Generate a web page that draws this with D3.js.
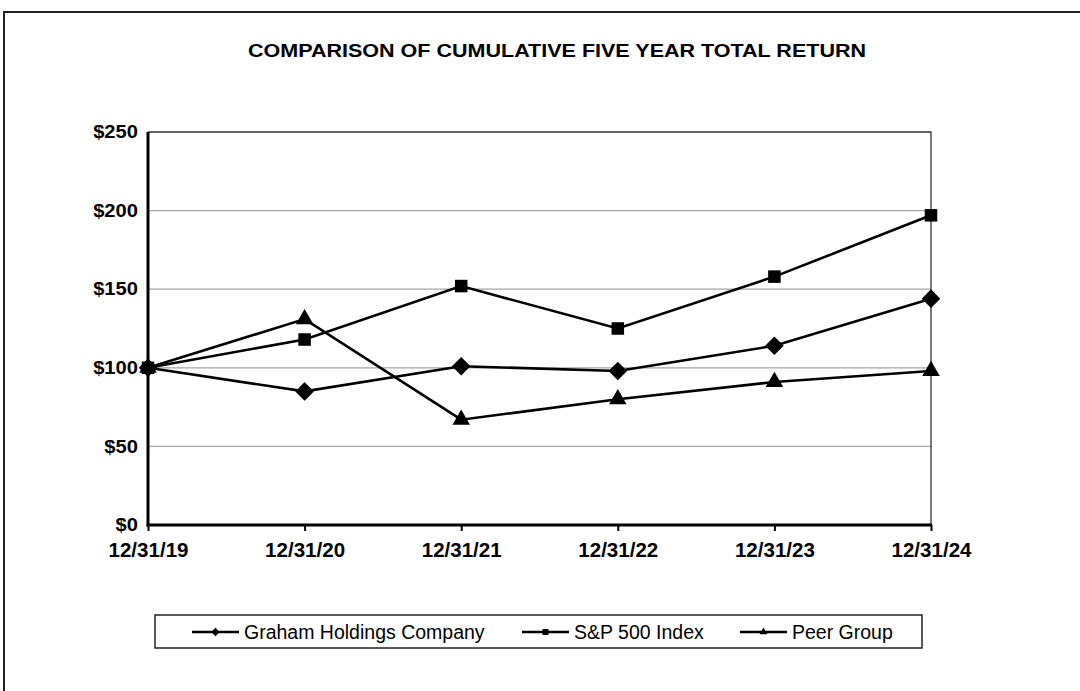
<!DOCTYPE html>
<html>
<head>
<meta charset="utf-8">
<script src="https://cdn.jsdelivr.net/npm/d3@7"></script>
<style>
  body { margin: 0; background: #fff; }
  text { font-family: "Liberation Sans", Arial, sans-serif; fill: #000; }
</style>
</head>
<body>
<script>
const width = 1080;
const height = 691;

// data
const years = ["12/31/19", "12/31/20", "12/31/21", "12/31/22", "12/31/23", "12/31/24"];
const graham = [100, 85, 101, 98, 114, 144];
const sp500 = [100, 118, 152, 125, 158, 197];
const peer = [100, 131, 67, 80, 91, 98];
const yTicks = [0, 50, 100, 150, 200, 250];
const seriesNames = ["Graham Holdings Company", "S&P 500 Index", "Peer Group"];

const series = [
  { name: seriesNames[0], values: graham, symbol: d3.symbolDiamond2 },
  { name: seriesNames[1], values: sp500, symbol: d3.symbolSquare2 },
  { name: seriesNames[2], values: peer, symbol: d3.symbolTriangle2 }
];

const plot = { left: 148, right: 931, top: 132, bottom: 525 };

let svg = d3.select("body")
  .append("svg")
  .attr("width", width)
  .attr("height", height);

// outer frame
svg.append("rect")
  .attr("x", 4)
  .attr("y", 12)
  .attr("width", 1100)
  .attr("height", 720)
  .attr("fill", "none")
  .attr("stroke", "#222")
  .attr("stroke-width", 2);

svg.append("text")
  .attr("x", 557)
  .attr("y", 57)
  .attr("text-anchor", "middle")
  .style("font-weight", "bold")
  .style("font-size", "19px")
  .attr("textLength", 618)
  .attr("lengthAdjust", "spacingAndGlyphs")
  .text("COMPARISON OF CUMULATIVE FIVE YEAR TOTAL RETURN");

let x = d3.scalePoint()
  .domain(years)
  .range([plot.left, plot.right]);

let y = d3.scaleLinear()
  .domain([0, 250])
  .range([plot.bottom, plot.top]);

// gridlines
svg.append("g")
  .selectAll("line")
  .data(yTicks.filter(d => d > 0 && d < 250))
  .enter().append("line")
  .attr("x1", plot.left)
  .attr("x2", plot.right)
  .attr("y1", d => y(d))
  .attr("y2", d => y(d))
  .attr("stroke", "#a6a6a6")
  .attr("stroke-width", 1.2);

// top and right frame
svg.append("path")
  .attr("d", `M${plot.left},${y(250)}H${plot.right}V${plot.bottom}`)
  .attr("fill", "none")
  .attr("stroke", "#333")
  .attr("stroke-width", 1.3);

// y axis labels
let yAxis = svg.append("g")
  .attr("transform", `translate(${plot.left},0)`)
  .call(d3.axisLeft(y).tickValues(yTicks).tickSize(0).tickPadding(10).tickFormat(d => "$" + d));
yAxis.select(".domain").remove();
yAxis.selectAll("text")
  .style("font-family", "'Liberation Sans', Arial, sans-serif")
  .style("font-weight", "bold")
  .style("font-size", "18px")
  .attr("transform", "scale(1.12,1)")
  .attr("x", -10 / 1.12);

// x axis
let xAxis = svg.append("g")
  .attr("transform", `translate(0,${plot.bottom})`)
  .call(d3.axisBottom(x).tickSize(6).tickPadding(12));
xAxis.select(".domain").remove();
xAxis.selectAll("line").attr("stroke", "#000").attr("stroke-width", 2);
xAxis.selectAll("text")
  .style("font-family", "'Liberation Sans', Arial, sans-serif")
  .style("font-weight", "bold")
  .style("font-size", "20px")
  .attr("textLength", 80)
  .attr("lengthAdjust", "spacingAndGlyphs");

// axis lines
svg.append("line")
  .attr("x1", plot.left).attr("x2", plot.left)
  .attr("y1", plot.top).attr("y2", plot.bottom + 1.5)
  .attr("stroke", "#000").attr("stroke-width", 3);
svg.append("line")
  .attr("x1", plot.left - 1.5).attr("x2", plot.right + 1)
  .attr("y1", plot.bottom).attr("y2", plot.bottom)
  .attr("stroke", "#000").attr("stroke-width", 3);

let line = d3.line()
  .x((d, i) => x(years[i]))
  .y(d => y(d));

let groups = svg.selectAll("g.series")
  .data(series)
  .enter().append("g")
  .attr("class", "series");

groups.append("path")
  .attr("d", d => line(d.values))
  .attr("fill", "none")
  .attr("stroke", "#000")
  .attr("stroke-width", 2.6);

groups.each(function (s) {
  d3.select(this).selectAll("path.marker")
    .data(s.values)
    .enter().append("path")
    .attr("class", "marker")
    .attr("d", d3.symbol().type(s.symbol).size(s.symbol === d3.symbolSquare2 ? 200 : 220))
    .attr("transform", (d, i) => `translate(${x(years[i])},${y(d)})`)
    .attr("fill", "#000");
});

// legend
let legend = svg.append("g");
legend.append("rect")
  .attr("x", 155)
  .attr("y", 615)
  .attr("width", 767)
  .attr("height", 33)
  .attr("fill", "#fff")
  .attr("stroke", "#222")
  .attr("stroke-width", 1.5);

const legendX = [192, 522, 740];
let items = legend.selectAll("g.item")
  .data(series)
  .enter().append("g")
  .attr("class", "item")
  .attr("transform", (d, i) => `translate(${legendX[i]},632)`);

items.append("line")
  .attr("x1", 0).attr("x2", 47)
  .attr("stroke", "#000").attr("stroke-width", 2.6);
items.append("path")
  .attr("d", d => d3.symbol().type(d.symbol).size(45)())
  .attr("transform", "translate(23.5,0)")
  .attr("fill", "#000");
items.append("text")
  .attr("x", 52)
  .attr("y", 7)
  .style("font-size", "19.5px")
  .text(d => d.name);
</script>
</body>
</html>
